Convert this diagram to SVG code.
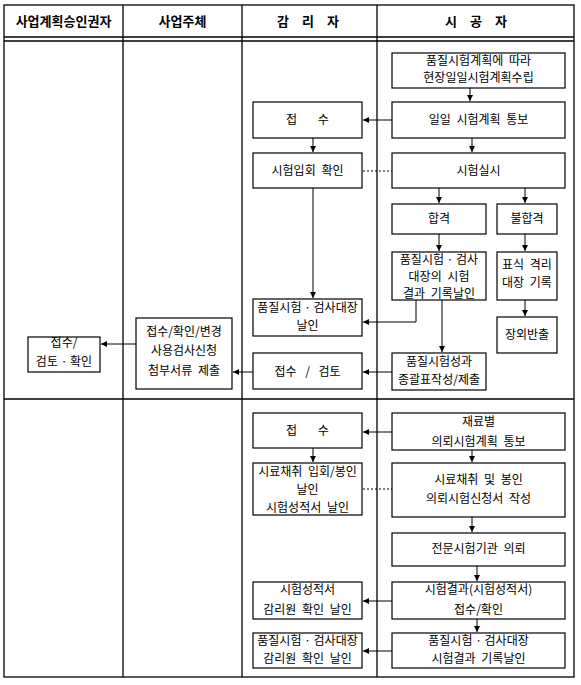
<svg xmlns="http://www.w3.org/2000/svg" width="581" height="685" viewBox="0 0 581 685">
<style>
text{font-family:"Noto Sans CJK KR","Liberation Sans",sans-serif;font-size:12px;fill:#000;text-anchor:middle;word-spacing:3px}
text.m{word-spacing:0px}
.h{font-weight:bold;font-size:13px}
.box{fill:#fff;stroke:#000;stroke-width:1.2}
.tb{fill:none;stroke:#000;stroke-width:1.3}
.c{fill:none;stroke:#000;stroke-width:1}
.d{fill:none;stroke:#000;stroke-width:1;stroke-dasharray:2 2}
</style>
<defs>
<marker id="a" markerUnits="userSpaceOnUse" markerWidth="7" markerHeight="7" refX="6" refY="3.5" orient="auto">
<path d="M0,0.5 L6,3.5 L0,6.5 Z" fill="#000"/>
</marker>
</defs>
<g id="table">
<rect class="tb" x="4" y="5" width="570" height="672"/>
<line class="tb" x1="4" y1="37" x2="574" y2="37"/>
<line class="tb" x1="4" y1="41" x2="574" y2="41"/>
<line class="tb" x1="4" y1="399" x2="574" y2="399"/>
<line class="tb" x1="123" y1="5" x2="123" y2="677"/>
<line class="tb" x1="242" y1="5" x2="242" y2="677"/>
<line class="tb" x1="377" y1="5" x2="377" y2="677"/>
<text class="h" x="63.5" y="26">사업계획승인권자</text>
<text class="h" x="182.5" y="26">사업주체</text>
<text class="h" x="308" y="26" style="word-spacing:10px">감 리 자</text>
<text class="h" x="476" y="26" style="word-spacing:10px">시 공 자</text>
</g>
<g id="connectors">
<line class="c" x1="470" y1="88" x2="470" y2="101" marker-end="url(#a)"/>
<line class="c" x1="392" y1="120" x2="363" y2="120" marker-end="url(#a)"/>
<line class="c" x1="313" y1="138" x2="313" y2="152" marker-end="url(#a)"/>
<line class="c" x1="472" y1="138" x2="472" y2="152" marker-end="url(#a)"/>
<line class="d" x1="363" y1="171" x2="392" y2="171"/>
<line class="c" x1="439" y1="188" x2="439" y2="203" marker-end="url(#a)"/>
<line class="c" x1="525" y1="188" x2="525" y2="203" marker-end="url(#a)"/>
<line class="c" x1="313" y1="188" x2="313" y2="298" marker-end="url(#a)"/>
<line class="c" x1="439" y1="234" x2="439" y2="251" marker-end="url(#a)"/>
<line class="c" x1="525" y1="234" x2="525" y2="251" marker-end="url(#a)"/>
<line class="c" x1="525" y1="300" x2="525" y2="316" marker-end="url(#a)"/>
<polyline class="c" points="416,300 416,322 363,322" marker-end="url(#a)"/>
<line class="c" x1="442" y1="300" x2="442" y2="352" marker-end="url(#a)"/>
<line class="c" x1="392" y1="372" x2="363" y2="372" marker-end="url(#a)"/>
<line class="c" x1="253" y1="372" x2="233" y2="372" marker-end="url(#a)"/>
<line class="c" x1="136" y1="344" x2="101" y2="344" marker-end="url(#a)"/>
<line class="c" x1="392" y1="432" x2="363" y2="432" marker-end="url(#a)"/>
<line class="c" x1="313" y1="448" x2="313" y2="462" marker-end="url(#a)"/>
<line class="c" x1="472" y1="450" x2="472" y2="462" marker-end="url(#a)"/>
<line class="d" x1="363" y1="489" x2="392" y2="489"/>
<line class="c" x1="472" y1="517" x2="472" y2="532" marker-end="url(#a)"/>
<line class="c" x1="477" y1="566" x2="477" y2="581" marker-end="url(#a)"/>
<line class="c" x1="392" y1="601" x2="363" y2="601" marker-end="url(#a)"/>
<line class="c" x1="477" y1="619" x2="477" y2="632" marker-end="url(#a)"/>
<line class="c" x1="392" y1="651" x2="363" y2="651" marker-end="url(#a)"/>
</g>
<g id="n1"><rect class="box" x="392" y="53" width="173" height="35"/><text x="478.5" y="65">품질시험계획에 따라</text><text x="478.5" y="82">현장일일시험계획수립</text></g>
<g id="n2"><rect class="box" x="392" y="102" width="173" height="36"/><text x="478.5" y="124">일일 시험계획 통보</text></g>
<g id="n3"><rect class="box" x="253" y="102" width="109" height="36"/><text x="307.5" y="124" style="word-spacing:18px">접 수</text></g>
<g id="n4"><rect class="box" x="253" y="153" width="109" height="35"/><text x="307.5" y="175">시험입회 확인</text></g>
<g id="n5"><rect class="box" x="392" y="153" width="173" height="35"/><text x="478.5" y="175">시험실시</text></g>
<g id="n6"><rect class="box" x="392" y="204" width="94" height="30"/><text x="439" y="223">합격</text></g>
<g id="n7"><rect class="box" x="497" y="204" width="60" height="30"/><text x="527" y="223">불합격</text></g>
<g id="n8"><rect class="box" x="392" y="252" width="94" height="48"/><text class="m" x="439" y="264">품질시험 · 검사</text><text x="439" y="281">대장의 시험</text><text x="439" y="298">결과 기록날인</text></g>
<g id="n9"><rect class="box" x="497" y="252" width="60" height="48"/><text x="527" y="269">표식 격리</text><text x="527" y="287">대장 기록</text></g>
<g id="n10"><rect class="box" x="497" y="317" width="60" height="36"/><text x="527" y="339">장외반출</text></g>
<g id="n11"><rect class="box" x="253" y="299" width="109" height="37"/><text class="m" x="307.5" y="312">품질시험 · 검사대장</text><text x="307.5" y="330">날인</text></g>
<g id="n12"><rect class="box" x="253" y="353" width="109" height="36"/><text x="307.5" y="376" style="word-spacing:6px">접수 / 검토</text></g>
<g id="n13"><rect class="box" x="392" y="353" width="94" height="37"/><text x="439" y="366">품질시험성과</text><text x="439" y="384">종괄표작성/제출</text></g>
<g id="n14"><rect class="box" x="136" y="318" width="96" height="71"/><text x="184" y="336">접수/확인/변경</text><text x="184" y="355">사용검사신청</text><text x="184" y="375">첨부서류 제출</text></g>
<g id="n15"><rect class="box" x="28" y="337" width="72" height="35"/><text x="64" y="347">접수/</text><text class="m" x="64" y="366">검토 · 확인</text></g>
<g id="n16"><rect class="box" x="253" y="413" width="109" height="35"/><text x="307.5" y="435" style="word-spacing:18px">접 수</text></g>
<g id="n17"><rect class="box" x="392" y="413" width="173" height="37"/><text x="478.5" y="426">재료별</text><text x="478.5" y="446">의뢰시험계획 통보</text></g>
<g id="n18"><rect class="box" x="253" y="463" width="109" height="52"/><text x="307.5" y="476">시료채취 입회/봉인</text><text x="307.5" y="494">날인</text><text x="307.5" y="512">시험성적서 날인</text></g>
<g id="n19"><rect class="box" x="392" y="463" width="173" height="54"/><text x="478.5" y="484">시료채취 및 봉인</text><text x="478.5" y="503">의뢰시험신청서 작성</text></g>
<g id="n20"><rect class="box" x="392" y="533" width="173" height="33"/><text x="478.5" y="553">전문시험기관 의뢰</text></g>
<g id="n21"><rect class="box" x="392" y="582" width="173" height="37"/><text x="478.5" y="594">시험결과(시험성적서)</text><text x="478.5" y="614">접수/확인</text></g>
<g id="n22"><rect class="box" x="253" y="582" width="109" height="37"/><text x="307.5" y="594">시험성적서</text><text x="307.5" y="614">감리원 확인 날인</text></g>
<g id="n23"><rect class="box" x="392" y="633" width="173" height="35"/><text class="m" x="478.5" y="645">품질시험 · 검사대장</text><text x="478.5" y="663">시험결과 기록날인</text></g>
<g id="n24"><rect class="box" x="253" y="633" width="109" height="35"/><text class="m" x="307.5" y="645">품질시험 · 검사대장</text><text x="307.5" y="663">감리원 확인 날인</text></g>
</svg>
